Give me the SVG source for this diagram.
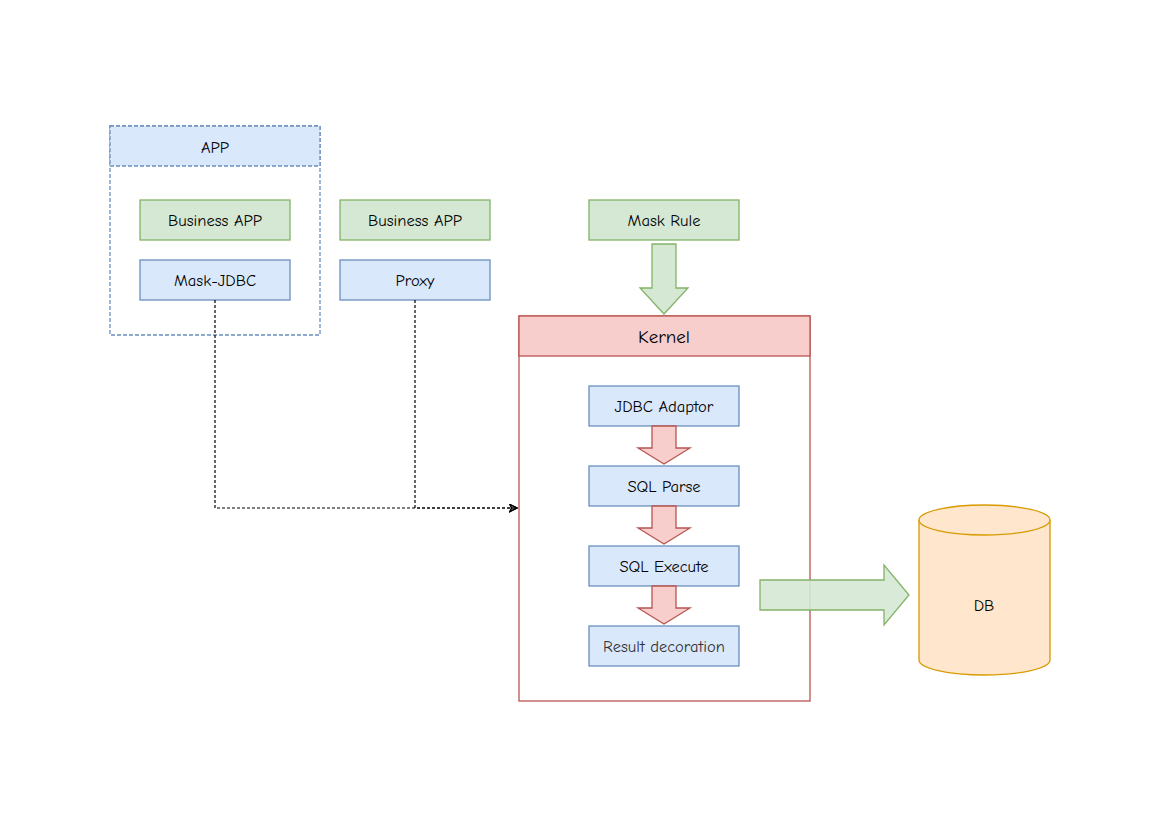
<svg xmlns="http://www.w3.org/2000/svg" width="1169" height="827" viewBox="0 0 1169 827">
<defs>
<style>
text{font-family:"Comic Sans MS","Comic Neue","Liberation Sans","DejaVu Sans",sans-serif;font-size:16.5px;fill:#000;text-anchor:middle;dominant-baseline:central}
.blue{fill:#dae8fc;stroke:#6c8ebf;stroke-width:1.3}
.green{fill:#d5e8d4;stroke:#82b366;stroke-width:1.3}
.red{fill:#f8cecc;stroke:#b85450;stroke-width:1.3}
.dash{fill:none;stroke:#000;stroke-width:1.2;stroke-dasharray:3 2}
</style>
<marker id="arr" viewBox="0 0 10 10" refX="9" refY="5" markerWidth="9" markerHeight="9" orient="auto" markerUnits="userSpaceOnUse">
<path d="M1,1 L9,5 L1,9 L3,5 Z" fill="none" stroke="#000" stroke-width="1.3"/>
</marker>
</defs>
<rect width="1169" height="827" fill="#fff"/>
<g id="app">
<rect x="110" y="126" width="210" height="209" fill="none" stroke="#6c8ebf" stroke-width="1.3" stroke-dasharray="4 2"/>
<rect x="110" y="126" width="210" height="40" fill="#dae8fc" stroke="#6c8ebf" stroke-width="1.3" stroke-dasharray="4 2"/>
<text x="215" y="147">APP</text>
</g>
<g id="business-app-1"><rect class="green" x="140" y="200" width="150" height="40"/><text x="215" y="220">Business APP</text></g>
<g id="mask-jdbc"><rect class="blue" x="140" y="260" width="150" height="40"/><text x="215" y="280">Mask-JDBC</text></g>
<g id="business-app-2"><rect class="green" x="340" y="200" width="150" height="40"/><text x="415" y="220">Business APP</text></g>
<g id="proxy"><rect class="blue" x="340" y="260" width="150" height="40"/><text x="415" y="280">Proxy</text></g>
<g id="mask-rule"><rect class="green" x="589" y="200" width="150" height="40"/><text x="664" y="220">Mask Rule</text></g>
<g id="kernel">
<rect x="519" y="316" width="291" height="385" fill="#fff" stroke="#b85450" stroke-width="1.3"/>
<rect class="red" x="519" y="316" width="291" height="40"/>
<text x="664" y="337" style="font-size:19px">Kernel</text>
</g>
<g id="jdbc-adaptor"><rect class="blue" x="589" y="386" width="150" height="40"/><text x="664" y="406">JDBC Adaptor</text></g>
<g id="sql-parse"><rect class="blue" x="589" y="466" width="150" height="40"/><text x="664" y="486">SQL Parse</text></g>
<g id="sql-execute"><rect class="blue" x="589" y="546" width="150" height="40"/><text x="664" y="566">SQL Execute</text></g>
<g id="result-decoration"><rect class="blue" x="589" y="626" width="150" height="40"/><text x="664" y="646" style="fill:#333">Result decoration</text></g>
<g id="db">
<path d="M919,520 L919,660 A65.5,15 0 0 0 1050,660 L1050,520" fill="#ffe6cc" stroke="#d79b00" stroke-width="1.3"/>
<ellipse cx="984.5" cy="520" rx="65.5" ry="15" fill="#ffe6cc" stroke="#d79b00" stroke-width="1.3"/>
<text x="984" y="605">DB</text>
</g>
<g id="connectors">
<path class="dash" d="M215,300 L215,508 L517,508" marker-end="url(#arr)"/>
<path class="dash" d="M415,300 L415,508 L517,508" marker-end="url(#arr)"/>
<path class="green" d="M652,244 L676,244 L676,288 L688,288 L664,314 L640,288 L652,288 Z"/>
<path class="red" d="M652,426 L676,426 L676,448 L690,448 L664,464 L638,448 L652,448 Z"/>
<path class="red" d="M652,506 L676,506 L676,528 L690,528 L664,544 L638,528 L652,528 Z"/>
<path class="red" d="M652,586 L676,586 L676,608 L690,608 L664,624 L638,608 L652,608 Z"/>
<path class="green" d="M760,580 L884,580 L884,565 L909,595 L884,625 L884,610 L760,610 Z" fill-opacity="0.9"/>
</g>
</svg>
